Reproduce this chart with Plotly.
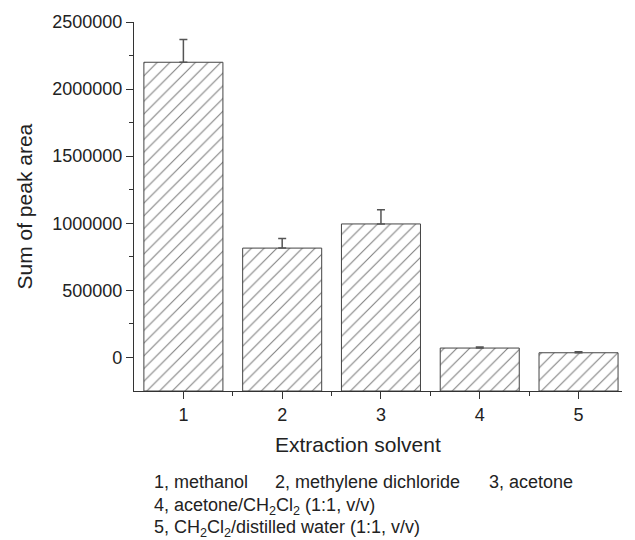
import plotly.graph_objects as go

categories = [1, 2, 3, 4, 5]
values = [2200000, 815000, 995000, 70000, 35000]
errors = [170000, 72000, 105000, 8000, 8000]
caption_line1 = ["1, methanol", "2, methylene dichloride", "3, acetone"]
caption_line2 = "4, acetone/CH<sub>2</sub>Cl<sub>2</sub> (1:1, v/v)"
caption_line3 = "5, CH<sub>2</sub>Cl<sub>2</sub>/distilled water (1:1, v/v)"
axis_floor = -250000

FONT = "Liberation Sans, Arial, sans-serif"
TXT = "#222222"
AX = "#333333"

fig = go.Figure()
fig.add_trace(go.Bar(
    x=categories, y=[v - axis_floor for v in values], base=axis_floor, width=0.8,
    marker=dict(color="white", line=dict(color="#444444", width=1),
                pattern=dict(shape="/", fgcolor="#000000", bgcolor="white", size=9, solidity=0.12)),
    error_y=dict(type="data", array=errors, arrayminus=[0]*5, symmetric=False,
                 color="#555555", thickness=1.5, width=4),
))

fig.update_layout(
    width=635, height=540,
    margin=dict(l=134, r=13, t=19, b=149),
    paper_bgcolor="white", plot_bgcolor="white",
    showlegend=False,
    font=dict(family=FONT, size=18, color=TXT),
    bargap=0.2,
)
fig.update_xaxes(
    range=[0.5, 5.44], tickvals=categories, ticktext=[str(c) for c in categories],
    showgrid=False, zeroline=False, showline=True, linecolor=AX, linewidth=1.2,
    ticks="outside", ticklen=7, tickcolor=AX, tickwidth=1.2,
    minor=dict(ticks="outside", ticklen=4, tickcolor=AX, tickwidth=1.2, tickvals=[1.5, 2.5, 3.5, 4.5]),
    tickfont=dict(size=18, color=TXT),
)
fig.update_yaxes(
    range=[axis_floor, 2500000], tickvals=[0, 500000, 1000000, 1500000, 2000000, 2500000],
    ticktext=["0", "500000", "1000000", "1500000", "2000000", "2500000"],
    showgrid=False, zeroline=False, showline=True, linecolor=AX, linewidth=1.2,
    ticks="outside", ticklen=7, tickcolor=AX, tickwidth=1.2,
    minor=dict(ticks="outside", ticklen=4, tickcolor=AX, tickwidth=1.2,
               tickvals=[250000, 750000, 1250000, 1750000, 2250000]),
    tickfont=dict(size=18, color=TXT),
)

W, H = 488, 372
def px(xp):
    return (xp - 134) / W
def py(yp):
    return (391 - yp) / H

ann = []
ann.append(dict(text="Sum of peak area", x=px(24), y=py(205), textangle=-90,
                font=dict(size=21, color=TXT)))
ann.append(dict(text="Extraction solvent", x=px(358), y=py(445), font=dict(size=21, color=TXT)))
for t, xp in zip(caption_line1, [152, 273, 487]):
    ann.append(dict(text=t, x=px(xp), y=py(483), xanchor="left", font=dict(size=18, color=TXT)))
ann.append(dict(text=caption_line2, x=px(152), y=py(507), xanchor="left", font=dict(size=18, color=TXT)))
ann.append(dict(text=caption_line3, x=px(152), y=py(530), xanchor="left", font=dict(size=18, color=TXT)))
for a in ann:
    a.update(xref="paper", yref="paper", showarrow=False)
    a.setdefault("xanchor", "center")
    a.setdefault("yanchor", "middle")
fig.update_layout(annotations=ann)

fig.write_html("out.html")
